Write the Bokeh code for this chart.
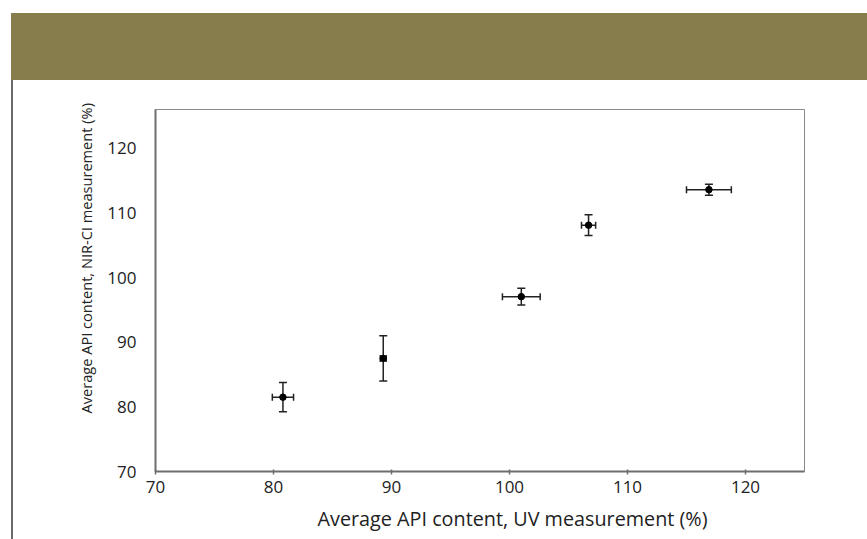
from bokeh.plotting import figure
from bokeh.models import ColumnDataSource, Whisker, Range1d, FixedTicker, Div, Title
from bokeh.layouts import column, row
from bokeh.embed import file_html
from bokeh.resources import INLINE

# Data
uv_mean = [80.8, 89.3, 101.0, 106.7, 116.9]
nir_mean = [81.5, 87.5, 97.05, 108.1, 113.6]
uv_err = [0.9, 0.25, 1.6, 0.6, 1.9]
nir_err = [2.25, 3.5, 1.3, 1.6, 0.85]
x_ticks = [70, 80, 90, 100, 110, 120]
y_ticks = [70, 80, 90, 100, 110, 120]
x_title = "Average API content, UV measurement (%)"
y_title = "Average API content, NIR-CI measurement (%)"

src = ColumnDataSource(dict(
    x=uv_mean, y=nir_mean,
    xl=[m - e for m, e in zip(uv_mean, uv_err)],
    xu=[m + e for m, e in zip(uv_mean, uv_err)],
    yl=[m - e for m, e in zip(nir_mean, nir_err)],
    yu=[m + e for m, e in zip(nir_mean, nir_err)],
))

FONT = "Open Sans"
TXT = "#222222"
AX = "#6e6e6e"

p = figure(width=854, height=459, output_backend="svg", toolbar_location=None,
           x_range=Range1d(70, 125), y_range=Range1d(70, 126),
           min_border_left=142, min_border_right=63, min_border_top=29, min_border_bottom=68,
           margin=(0, 0, 0, 0))
p.background_fill_color = "white"
p.border_fill_color = "white"
p.outline_line_color = "#8a8a8a"
p.outline_line_width = 1
p.grid.visible = False

p.xaxis.ticker = FixedTicker(ticks=x_ticks)
p.yaxis.ticker = FixedTicker(ticks=y_ticks)
for ax in (p.xaxis[0], p.yaxis[0]):
    ax.axis_line_color = AX
    ax.axis_line_width = 2
    ax.minor_tick_line_color = None
    ax.major_label_text_font = FONT
    ax.major_label_text_font_size = "17px"
    ax.major_label_text_color = TXT
p.xaxis.major_tick_line_color = AX
p.xaxis.major_tick_line_width = 1.5
p.xaxis.major_tick_in = 2
p.xaxis.major_tick_out = 3
p.xaxis.major_label_standoff = 6
p.yaxis.major_tick_line_color = None
p.yaxis.major_label_standoff = 13

# Axis titles (offset like the reference, so placed as titles)
tx = Title(text=x_title, align="left", offset=162, standoff=14,
           text_font=FONT, text_font_size="19.8px", text_font_style="normal", text_color=TXT)
ty = Title(text=y_title, align="left", offset=58, standoff=18,
           text_font=FONT, text_font_size="14.6px", text_font_style="normal", text_color=TXT)
p.add_layout(tx, "below")
p.add_layout(ty, "left")

# Error bars
wy = Whisker(source=src, base="x", lower="yl", upper="yu", dimension="height",
             line_color="#222222", line_width=1.5)
wx = Whisker(source=src, base="y", lower="xl", upper="xu", dimension="width",
             line_color="#222222", line_width=1.5)
for w, s in ((wy, 8), (wx, 7)):
    for h in (w.upper_head, w.lower_head):
        h.size = s
        h.line_color = "#222222"
        h.line_width = 1.5
p.add_layout(wy)
p.add_layout(wx)
p.scatter("x", "y", source=src, marker="circle", size=6.5, fill_color="black", line_color="black")

# Header band and left rule
band = Div(text="", width=856, height=67, margin=(13, 0, 0, 11),
           styles={"background-color": "#877c4b"})
rule = Div(text="", width=2, height=459, margin=(0, 0, 0, 11),
           styles={"background-color": "#6a6a6a"})
layout = column(band, row(rule, p, spacing=0), spacing=0, margin=(0, 0, 0, 0))

open("out.html", "w").write(file_html(layout, INLINE))
